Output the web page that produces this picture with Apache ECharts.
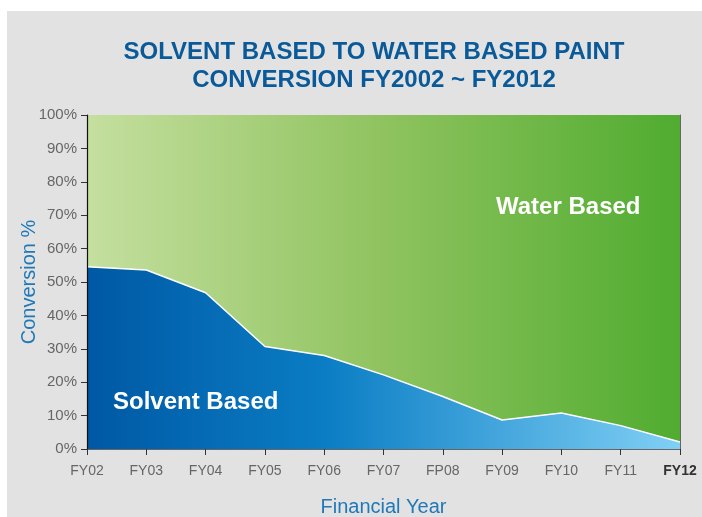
<!DOCTYPE html>
<html lang="en">
<head>
<meta charset="utf-8">
<title>Solvent to water based paint conversion</title>
<style>
  html, body { margin: 0; background: #fff; }
  #chart { position: absolute; left: 7px; top: 11px; width: 695px; height: 506px; background: #e2e2e2; }
</style>
</head>
<body>
<div id="chart"></div>
<script src="https://cdn.jsdelivr.net/npm/echarts@6/dist/echarts.min.js"></script>
<script>
// data
var years = ['FY02', 'FY03', 'FY04', 'FY05', 'FY06', 'FY07', 'FP08', 'FY09', 'FY10', 'FY11', 'FY12'];
var solvent = [54.6, 53.6, 46.8, 30.7, 28.0, 22.2, 15.7, 8.7, 10.8, 7.0, 2.1];
var water = solvent.map(function (v) { return +(100 - v).toFixed(1); });
var yTicks = [0, 10, 20, 30, 40, 50, 60, 70, 80, 90, 100];

var chart = echarts.init(document.getElementById('chart'), null, { renderer: 'canvas' });
var font = "'Liberation Sans', Arial, sans-serif";

var option = {
  backgroundColor: 'transparent',
  animation: false,
  title: {
    text: 'SOLVENT BASED TO WATER BASED PAINT\nCONVERSION FY2002 ~ FY2012',
    left: 362,
    top: 22,
    textAlign: 'center',
    textStyle: {
      color: '#0a5a9a', fontSize: 24, fontWeight: 'bold', fontFamily: font, lineHeight: 28
    }
  },
  grid: { left: 80, right: 22, top: 104, bottom: 68, containLabel: false, outerBoundsMode: 'none' },
  xAxis: [{
    type: 'category',
    data: years,
    boundaryGap: false,
    name: 'Financial Year',
    nameLocation: 'middle',
    nameGap: 48,
    nameMoveOverlap: false,
    nameTextStyle: { color: '#1f78b8', fontSize: 20, fontFamily: font },
    z: 10,
    axisLine: { lineStyle: { color: '#111', width: 1.2 } },
    axisTick: { show: true, length: 6, interval: 0, lineStyle: { color: '#333' } },
    axisLabel: {
      color: '#666', fontSize: 14, fontFamily: font, margin: 15, interval: 0,
      formatter: function (v) { return v === 'FY12' ? '{b|' + v + '}' : v; },
      rich: { b: { color: '#333', fontWeight: 'bold', fontSize: 14, fontFamily: font } }
    }
  }, {
    type: 'category',
    data: years,
    boundaryGap: false,
    position: 'top',
    z: 10,
    axisLine: { lineStyle: { color: '#666', width: 1 } },
    axisTick: { show: false },
    axisLabel: { show: false }
  }],
  yAxis: [{
    type: 'value',
    min: 0, max: 100, interval: 10,
    name: 'Conversion %',
    nameLocation: 'middle',
    nameGap: 48,
    nameMoveOverlap: false,
    nameTextStyle: { color: '#1f78b8', fontSize: 20, fontFamily: font },
    z: 10,
    splitLine: { show: false },
    axisLine: { show: true, lineStyle: { color: '#111', width: 1.2 } },
    axisTick: { show: true, length: 6, lineStyle: { color: '#333' } },
    axisLabel: {
      color: '#666', fontSize: 15, fontFamily: font, margin: 10,
      formatter: function (v) { return yTicks.indexOf(v) >= 0 ? v + '%' : ''; }
    }
  }, {
    type: 'value',
    min: 0, max: 100,
    position: 'right',
    z: 10,
    splitLine: { show: false },
    axisLine: { show: true, lineStyle: { color: '#666', width: 1 } },
    axisTick: { show: false },
    axisLabel: { show: false }
  }],
  series: [{
    name: 'Solvent Based',
    type: 'line',
    stack: 'total',
    data: solvent,
    symbol: 'none',
    lineStyle: { color: '#fff', width: 1.5 },
    areaStyle: {
      opacity: 1,
      color: new echarts.graphic.LinearGradient(0, 0, 1, 0, [
        { offset: 0, color: '#0058a4' },
        { offset: 0.4, color: '#0a7dc4' },
        { offset: 1, color: '#80d0f5' }
      ])
    },
    z: 3
  }, {
    name: 'Water Based',
    type: 'line',
    stack: 'total',
    data: water,
    symbol: 'none',
    lineStyle: { width: 0 },
    areaStyle: {
      opacity: 1,
      color: new echarts.graphic.LinearGradient(0, 0, 1, 0, [
        { offset: 0, color: '#c5df9f' },
        { offset: 0.5, color: '#8fc35f' },
        { offset: 1, color: '#50ac30' }
      ])
    },
    z: 2
  }],
  graphic: [{
    type: 'text',
    left: 489, top: 184, z: 20,
    style: { text: 'Water Based', fill: '#fff', font: 'bold 24px ' + font }
  }, {
    type: 'text',
    left: 106, top: 379, z: 20,
    style: { text: 'Solvent Based', fill: '#fff', font: 'bold 24px ' + font }
  }]
};

chart.setOption(option);
window.addEventListener('resize', chart.resize);
</script>
</body>
</html>
